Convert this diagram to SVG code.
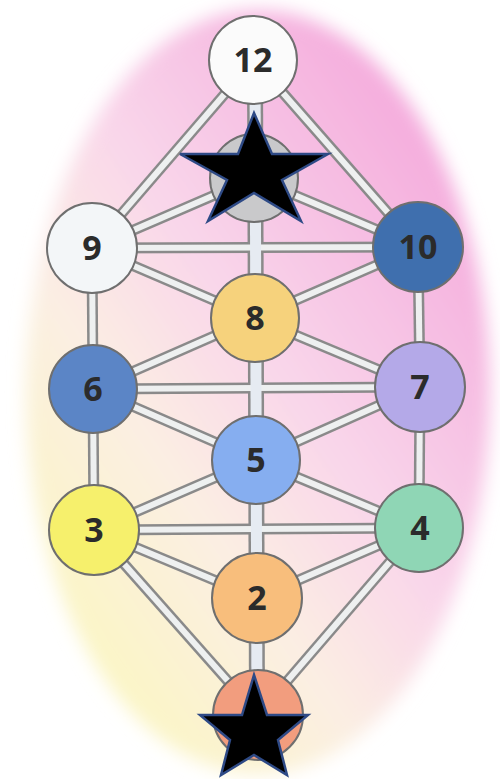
<svg xmlns="http://www.w3.org/2000/svg" width="500" height="779" viewBox="0 0 500 779">
<defs>
<linearGradient id="bg" x1="0.85" y1="0.1" x2="0.15" y2="0.9">
<stop offset="0" stop-color="#f4a9dc"/>
<stop offset="0.45" stop-color="#f9d6ea"/>
<stop offset="0.7" stop-color="#fbefe2"/>
<stop offset="1" stop-color="#fbf6c2"/>
</linearGradient>
<filter id="soft" x="-10%" y="-10%" width="120%" height="120%"><feGaussianBlur stdDeviation="9"/></filter>
<style>
.o{stroke:#8a8a8a;stroke-width:11;fill:none;stroke-linecap:butt}
.i{stroke:#eef0f0;stroke-width:6;fill:none;stroke-linecap:butt}
.oc{stroke:#8a8a8a;stroke-width:16;fill:none}
.ic{stroke:#e6ebf2;stroke-width:11;fill:none}
.n{stroke:#6f6f6f;stroke-width:2}
.t{font-family:"Open Sans","DejaVu Sans",sans-serif;font-weight:700;font-size:34px;fill:#2b2b2b;text-anchor:middle}
.s{fill:#000;stroke:#2e4a86;stroke-width:2.5;stroke-linejoin:miter}
</style>
</defs>
<rect width="500" height="779" fill="#ffffff"/>
<ellipse cx="258" cy="392" rx="232" ry="382" fill="url(#bg)" filter="url(#soft)"/>
<g id="connectors">
<g class="o">
<line x1="254" y1="60" x2="92" y2="248"/>
<line x1="254" y1="60" x2="418" y2="247"/>
<line x1="254" y1="178" x2="92" y2="248"/>
<line x1="254" y1="178" x2="418" y2="247"/>
<line x1="92" y1="248" x2="418" y2="247"/>
<line x1="92" y1="248" x2="255" y2="318"/>
<line x1="418" y1="247" x2="255" y2="318"/>
<line x1="92" y1="248" x2="93" y2="389"/>
<line x1="418" y1="247" x2="420" y2="387"/>
<line x1="93" y1="389" x2="255" y2="318"/>
<line x1="420" y1="387" x2="255" y2="318"/>
<line x1="93" y1="389" x2="420" y2="387"/>
<line x1="93" y1="389" x2="256" y2="460"/>
<line x1="420" y1="387" x2="256" y2="460"/>
<line x1="93" y1="389" x2="94" y2="530"/>
<line x1="420" y1="387" x2="419" y2="528"/>
<line x1="94" y1="530" x2="256" y2="460"/>
<line x1="419" y1="528" x2="256" y2="460"/>
<line x1="94" y1="530" x2="419" y2="528"/>
<line x1="94" y1="530" x2="257" y2="598"/>
<line x1="419" y1="528" x2="257" y2="598"/>
<line x1="94" y1="530" x2="258" y2="715"/>
<line x1="419" y1="528" x2="258" y2="715"/>
</g>
<line class="oc" x1="255" y1="60" x2="257" y2="715"/>
<g class="i">
<line x1="254" y1="60" x2="92" y2="248"/>
<line x1="254" y1="60" x2="418" y2="247"/>
<line x1="254" y1="178" x2="92" y2="248"/>
<line x1="254" y1="178" x2="418" y2="247"/>
<line x1="92" y1="248" x2="418" y2="247"/>
<line x1="92" y1="248" x2="255" y2="318"/>
<line x1="418" y1="247" x2="255" y2="318"/>
<line x1="92" y1="248" x2="93" y2="389"/>
<line x1="418" y1="247" x2="420" y2="387"/>
<line x1="93" y1="389" x2="255" y2="318"/>
<line x1="420" y1="387" x2="255" y2="318"/>
<line x1="93" y1="389" x2="420" y2="387"/>
<line x1="93" y1="389" x2="256" y2="460"/>
<line x1="420" y1="387" x2="256" y2="460"/>
<line x1="93" y1="389" x2="94" y2="530"/>
<line x1="420" y1="387" x2="419" y2="528"/>
<line x1="94" y1="530" x2="256" y2="460"/>
<line x1="419" y1="528" x2="256" y2="460"/>
<line x1="94" y1="530" x2="419" y2="528"/>
<line x1="94" y1="530" x2="257" y2="598"/>
<line x1="419" y1="528" x2="257" y2="598"/>
<line x1="94" y1="530" x2="258" y2="715"/>
<line x1="419" y1="528" x2="258" y2="715"/>
</g>
<line class="ic" x1="255" y1="60" x2="257" y2="715"/>
</g>
<g id="n12"><circle class="n" cx="253" cy="60" r="44" fill="#fbfbfb"/><text class="t" x="253" y="72">12</text></g>
<g id="n11"><circle class="n" cx="254" cy="178" r="44" fill="#c9c9cb"/><polygon class="s" points="254,113 272,154 328,154 282,180 301,221 254,193 208,221 227,180 180,154 238,154"/></g>
<g id="n9"><circle class="n" cx="92" cy="248" r="45" fill="#f3f6f8"/><text class="t" x="92" y="260">9</text></g>
<g id="n10"><circle class="n" cx="418" cy="247" r="45" fill="#3f6fae"/><text class="t" x="418" y="259">10</text></g>
<g id="n8"><circle class="n" cx="255" cy="318" r="44" fill="#f6d27c"/><text class="t" x="255" y="330">8</text></g>
<g id="n6"><circle class="n" cx="93" cy="389" r="44" fill="#5b85c6"/><text class="t" x="93" y="401">6</text></g>
<g id="n7"><circle class="n" cx="420" cy="387" r="45" fill="#b4a9e8"/><text class="t" x="420" y="399">7</text></g>
<g id="n5"><circle class="n" cx="256" cy="460" r="44" fill="#86aef0"/><text class="t" x="256" y="472">5</text></g>
<g id="n3"><circle class="n" cx="94" cy="530" r="45" fill="#f6f06c"/><text class="t" x="94" y="542">3</text></g>
<g id="n4"><circle class="n" cx="419" cy="528" r="44" fill="#8fd6b5"/><text class="t" x="420" y="540">4</text></g>
<g id="n2"><circle class="n" cx="257" cy="598" r="45" fill="#f8be7c"/><text class="t" x="257" y="610">2</text></g>
<g id="n1"><circle class="n" cx="258" cy="715" r="45" fill="#f29d7e"/><polygon class="s" points="254,675 267,715 308,715 278,740 287,775 254,755 221,775 230,740 200,715 242,715"/></g>
</svg>
